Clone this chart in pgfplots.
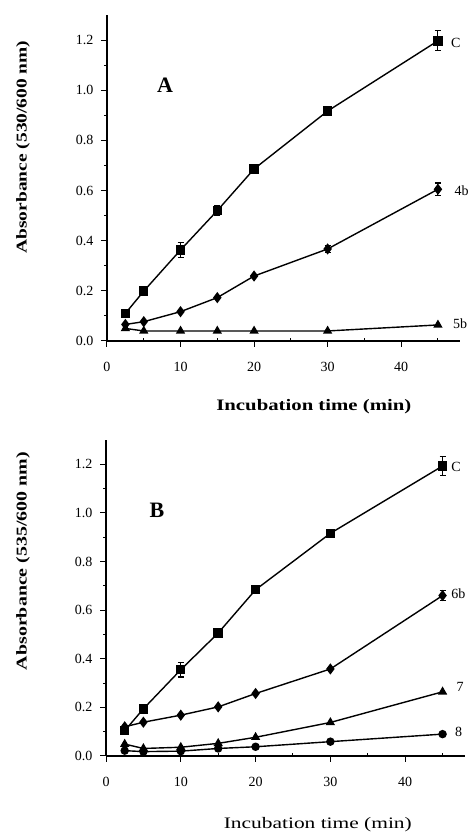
\documentclass[border=0pt]{standalone}
\usepackage{fontspec}
\setmainfont{Liberation Serif}
\usepackage{graphicx}
\usepackage{pgfplots}
\pgfplotsset{compat=1.18}

\pgfplotsset{
  panel/.style={
    scale only axis,
    axis lines=left,
    axis line style={-, line width=1.6pt},
    xmin=0, xmax=48, ymin=0, ymax=1.3,
    xtick={0,10,20,30,40},
    minor xtick={5,15,25,35,45},
    ytick={0,0.2,0.4,0.6,0.8,1.0,1.2},
    minor ytick={0.1,0.3,0.5,0.7,0.9,1.1},
    tick align=outside,
    major tick length=6pt, minor tick length=3pt,
    tick style={line width=1pt, black},
    minor x tick style={yshift=3pt},
    /pgf/number format/assume math mode=true,
    ticklabel style={font=\fontsize{14}{14}\selectfont},
    xticklabel style={yshift=-12pt},
    yticklabel style={xshift=-4pt, /pgf/number format/.cd, fixed, fixed zerofill, precision=1},
    clip=false,
    every axis plot/.append style={line width=1.4pt, black},
  },
  errs/.style={
    error bars/.cd, y dir=both, y explicit,
    error bar style={line width=1.1pt},
    error mark options={rotate=90, mark size=3pt, line width=1.1pt},
  },
}
\tikzset{lab/.style={anchor=west, font=\fontsize{14}{14}\selectfont}}

\begin{document}
\begin{tikzpicture}
\path[use as bounding box] (0,0) rectangle (468pt,832pt);

% panel A
\begin{axis}[panel,
    width=353pt, height=326pt,
    at={(107pt,491pt)}, anchor=south west,
    xlabel={\resizebox{195pt}{\height}{\fontsize{16}{16}\selectfont\bfseries Incubation time (min)}},
    ylabel={\resizebox{213pt}{\height}{\fontsize{15}{15}\selectfont\bfseries Absorbance (530/600 nm)}},
    xlabel style={at={(axis description cs:0.586,-0.202)}, anchor=center},
    ylabel style={at={(axis description cs:-0.238,0.595)}, anchor=center},
  ]
  % C
  \addplot[mark=square*, mark size=4pt, errs] coordinates {
    (2.5,0.110) +- (0,0)
    (5,0.199) +- (0,0)
    (10,0.363) +- (0,0.03)
    (15,0.520) +- (0,0.02)
    (20,0.686) +- (0,0)
    (30,0.917) +- (0,0)
    (45,1.197) +- (0,0.04)
  };
  % 4b
  \addplot[mark=diamond*, mark size=4.5pt, errs] coordinates {
    (2.5,0.066) +- (0,0)
    (5,0.077) +- (0,0)
    (10,0.117) +- (0,0)
    (15,0.173) +- (0,0)
    (20,0.259) +- (0,0)
    (30,0.367) +- (0,0.015)
    (45,0.605) +- (0,0.025)
  };
  % 5b
  \addplot[mark=triangle*, mark size=4pt] coordinates {
    (2.5,0.050) (5,0.040) (10,0.040) (15,0.040) (20,0.040) (30,0.040) (45,0.064)
  };
  \node[font=\fontsize{22}{22}\selectfont\bfseries] at (axis cs:7.9,1.02) {A};
  \node[lab] at (axis cs:46.3,1.19) {C};
  \node[lab] at (axis cs:46.8,0.60) {4b};
  \node[lab] at (axis cs:46.6,0.068) {5b};
\end{axis}

% panel B
\begin{axis}[panel,
    width=359pt, height=316pt,
    at={(106pt,76pt)}, anchor=south west,
    xlabel={\resizebox{188pt}{\height}{\fontsize{16}{16}\selectfont Incubation time (min)}},
    ylabel={\resizebox{218pt}{\height}{\fontsize{15}{15}\selectfont\bfseries Absorbance (535/600 nm)}},
    xlabel style={at={(axis description cs:0.59,-0.218)}, anchor=center},
    ylabel style={at={(axis description cs:-0.231,0.617)}, anchor=center},
  ]
  % C
  \addplot[mark=square*, mark size=4pt, errs] coordinates {
    (2.5,0.104) +- (0,0)
    (5,0.194) +- (0,0)
    (10,0.355) +- (0,0.03)
    (15,0.506) +- (0,0)
    (20,0.684) +- (0,0)
    (30,0.916) +- (0,0)
    (45,1.193) +- (0,0.04)
  };
  % 6b
  \addplot[mark=diamond*, mark size=4.5pt, errs] coordinates {
    (2.5,0.120) +- (0,0)
    (5,0.139) +- (0,0)
    (10,0.168) +- (0,0)
    (15,0.202) +- (0,0)
    (20,0.257) +- (0,0)
    (30,0.358) +- (0,0)
    (45,0.660) +- (0,0.02)
  };
  % 7
  \addplot[mark=triangle*, mark size=4pt] coordinates {
    (2.5,0.049) (5,0.031) (10,0.036) (15,0.052) (20,0.077) (30,0.138) (45,0.264)
  };
  % 8
  \addplot[mark=*, mark size=3.5pt] coordinates {
    (2.5,0.022) (5,0.018) (10,0.020) (15,0.031) (20,0.038) (30,0.059) (45,0.090)
  };
  \node[font=\fontsize{22}{22}\selectfont\bfseries] at (axis cs:6.8,1.01) {B};
  \node[lab] at (axis cs:45.7,1.19) {C};
  \node[lab] at (axis cs:45.7,0.667) {6b};
  \node[lab] at (axis cs:46.4,0.284) {7};
  \node[lab] at (axis cs:46.2,0.10) {8};
\end{axis}
\end{tikzpicture}
\end{document}
